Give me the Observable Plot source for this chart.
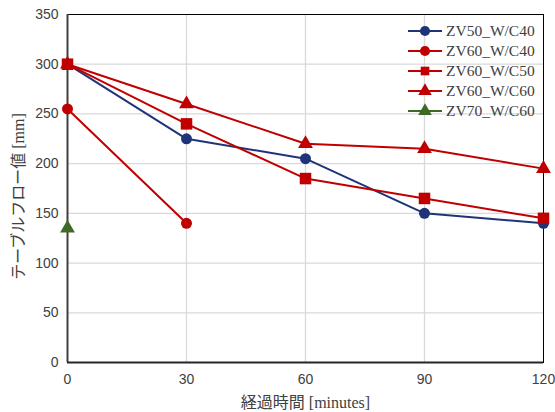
<!DOCTYPE html>
<html>
<head>
<meta charset="utf-8">
<script src="https://cdn.jsdelivr.net/npm/d3@7"></script>
<script src="https://cdn.jsdelivr.net/npm/@observablehq/plot@0.6"></script>
<style>
  html, body { margin: 0; padding: 0; background: #fff; }
  #chart svg { display: block; }
</style>
</head>
<body>
<div id="chart"></div>
<script>
// Elapsed time (minutes)
const minutes = [0, 30, 60, 90, 120];

// Table flow values [mm] per mix
const zv50_wc40 = [300, 225, 205, 150, 140];
const zv60_wc40 = [255, 140, null, null, null];
const zv60_wc50 = [300, 240, 185, 165, 145];
const zv60_wc60 = [300, 260, 220, 215, 195];
const zv70_wc60 = [135, null, null, null, null];

const seriesNames = ["ZV50_W/C40", "ZV60_W/C40", "ZV60_W/C50", "ZV60_W/C60", "ZV70_W/C60"];
const seriesValues = [zv50_wc40, zv60_wc40, zv60_wc50, zv60_wc60, zv70_wc60];
const seriesColors = ["#1f3478", "#c00000", "#c00000", "#c00000", "#3f6a26"];
const seriesSymbols = ["circle", "circle", "square", "triangle", "triangle"];

const xTicks = [0, 30, 60, 90, 120];
const yTicks = [0, 50, 100, 150, 200, 250, 300, 350];

const rows = [];
seriesNames.forEach((name, i) => {
  seriesValues[i].forEach((v, j) => {
    if (v != null) rows.push({series: name, t: minutes[j], flow: v});
  });
});

const latin = "'Liberation Sans', Arial, sans-serif";
const serifJa = "'Liberation Serif', 'DejaVu Serif', 'Noto Sans CJK JP', serif";

const plot = Plot.plot({
  width: 555,
  height: 412,
  marginLeft: 67,
  marginRight: 12,
  marginTop: 14,
  marginBottom: 50,
  style: {fontFamily: latin, fontSize: "14px", color: "#404040", background: "#fff"},
  x: {domain: [0, 120], ticks: xTicks, label: null},
  y: {domain: [0, 350], ticks: yTicks, label: null},
  color: {domain: seriesNames, range: seriesColors},
  symbol: {domain: seriesNames, range: seriesSymbols},
  marks: [
    Plot.gridX(xTicks.filter(d => d > 0 && d < 120), {stroke: "#d9d9d9", strokeOpacity: 1, strokeWidth: 1.3}),
    Plot.gridY(yTicks.filter(d => d > 0 && d < 350), {stroke: "#d9d9d9", strokeOpacity: 1, strokeWidth: 1.3}),
    Plot.frame({stroke: "#000", strokeWidth: 1}),
    Plot.ruleX([0], {stroke: "#404040", strokeWidth: 2}),
    Plot.ruleY([0], {stroke: "#262626", strokeWidth: 2}),
    Plot.axisX(xTicks, {tickSize: 0, tickPadding: 12, fontSize: 14, fill: "#404040"}),
    Plot.axisY(yTicks, {tickSize: 0, tickPadding: 9, fontSize: 14, fill: "#404040"}),
    Plot.line(rows, {x: "t", y: "flow", z: "series", stroke: "series", strokeWidth: 2}),
    Plot.dot(rows.filter(d => d.series !== "ZV60_W/C50"), {x: "t", y: "flow", fill: "series", symbol: "series", r: 5.5}),
    Plot.dot(rows.filter(d => d.series === "ZV60_W/C50"), {x: "t", y: "flow", fill: "series", symbol: "series", r: 6.5}),
    Plot.text(["経過時間 [minutes]"], {frameAnchor: "bottom", dy: 40, fontSize: 16, fontFamily: serifJa, fill: "#404040", lineAnchor: "middle"}),
    Plot.text(["テーブルフロー値 [mm]"], {frameAnchor: "left", textAnchor: "middle", dx: -49, dy: 8, rotate: -90, fontSize: 16, fontFamily: serifJa, fill: "#404040"})
  ]
});

// Legend drawn in the upper right of the plotting area
const svg = d3.select(plot);
const legend = svg.append("g").attr("transform", "translate(408,31)").attr("text-anchor", "start");
const sym = {circle: d3.symbolCircle, square: d3.symbolSquare, triangle: d3.symbolTriangle};
seriesNames.forEach((name, i) => {
  const g = legend.append("g").attr("transform", `translate(0,${i * 20})`);
  g.append("line").attr("x1", 0).attr("x2", 34).attr("y1", 0).attr("y2", 0)
    .attr("stroke", seriesColors[i]).attr("stroke-width", 2);
  g.append("path").attr("transform", "translate(17,0)")
    .attr("d", d3.symbol(sym[seriesSymbols[i]], seriesSymbols[i] === "square" ? 75 : 80)())
    .attr("fill", seriesColors[i]);
  g.append("text").attr("x", 38).attr("y", 0).attr("dy", "0.35em")
    .attr("text-anchor", "start")
    .attr("font-family", serifJa).attr("font-size", 15.5).attr("fill", "#404040")
    .text(name);
});

document.getElementById("chart").append(plot);
</script>
</body>
</html>
